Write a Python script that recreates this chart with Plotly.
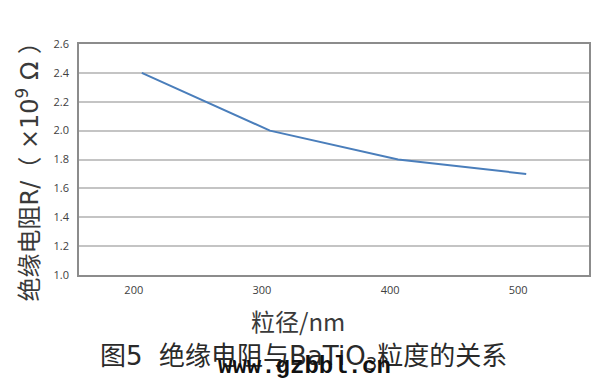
import plotly.graph_objects as go

# Data
particle_size_nm = [200, 300, 400, 500]
resistance_1e9_ohm = [2.4, 2.0, 1.8, 1.7]
x_tick_vals = [200, 300, 400, 500]
x_tick_text = ["200", "300", "400", "500"]
y_tick_vals = [1.0, 1.2, 1.4, 1.6, 1.8, 2.0, 2.2, 2.4, 2.6]
y_tick_text = ["1.0", "1.2", "1.4", "1.6", "1.8", "2.0", "2.2", "2.4", "2.6"]

CJK = "Noto Sans CJK SC, Noto Sans, sans-serif"
WIDE = "DejaVu Sans, Noto Sans CJK SC, sans-serif"
TICKF = "Liberation Sans Narrow, Open Sans, sans-serif"

fig = go.Figure()
fig.add_trace(go.Scatter(
    x=particle_size_nm, y=resistance_1e9_ohm, mode="lines",
    line=dict(color="#4a7ebb", width=2), showlegend=False, hoverinfo="skip"))

# page has an 8px body margin, so the figure is 8px smaller and shifted
fig.update_layout(
    width=606, height=375,
    margin=dict(l=71, r=25, t=36, b=108, autoexpand=False),
    paper_bgcolor="white", plot_bgcolor="white",
    xaxis=dict(range=[151, 549], tickvals=x_tick_vals, ticktext=x_tick_text,
               ticklabelshift=-8, showgrid=False, zeroline=False,
               showline=True, linecolor="#8c8c8c", linewidth=1.5, mirror=True,
               ticks="", tickfont=dict(family=TICKF, size=11, color="#404040"),
               ticklabelstandoff=4),
    yaxis=dict(range=[1.0, 2.6], tickvals=y_tick_vals, ticktext=y_tick_text,
               showgrid=True, gridcolor="#c4c4c4", gridwidth=1.5, zeroline=False,
               showline=True, linecolor="#8c8c8c", linewidth=1.5, mirror=True,
               ticks="", tickfont=dict(family=TICKF, size=11, color="#404040"),
               ticklabelstandoff=6),
    annotations=[
        dict(text="绝缘电阻R/（ ×10<sup>9</sup> Ω ）", xref="paper", yref="paper",
             x=-0.1, y=0.47, xanchor="center", yanchor="middle", textangle=-90,
             showarrow=False, font=dict(family=WIDE, size=24, color="#3a3a3a")),
        dict(text="粒径/nm", xref="paper", yref="paper",
             x=0.429, y=-0.195, xanchor="center", yanchor="middle",
             showarrow=False, font=dict(family=CJK, size=24, color="#3a3a3a")),
        dict(text="图5  绝缘电阻与BaTiO<sub>3</sub>粒度的关系", xref="paper", yref="paper",
             x=0.441, y=-0.359, xanchor="center", yanchor="middle",
             showarrow=False, font=dict(family=WIDE, size=26, color="#2a2a2a")),
        dict(text="<b>www.gzbbl.cn</b>", xref="paper", yref="paper",
             x=0.443, y=-0.398, xanchor="center", yanchor="middle",
             showarrow=False, font=dict(family="Liberation Mono, DejaVu Sans Mono, monospace", size=24, color="#111111")),
    ],
)

fig.write_html("out.html")
